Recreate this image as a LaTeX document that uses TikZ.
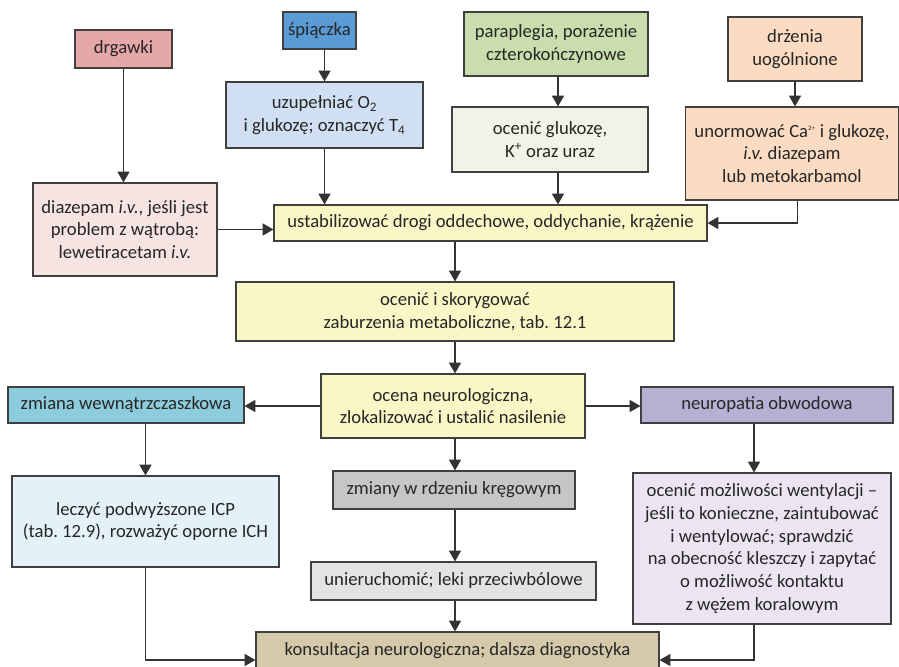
\documentclass[tikz,border=0pt]{standalone}
\usepackage{fontspec}
\setmainfont{Carlito}
\usepackage{xcolor}
\usetikzlibrary{arrows.meta}
\frenchspacing
\definecolor{linegray}{HTML}{333333}
\definecolor{boxgray}{HTML}{404040}
\definecolor{seizred}{HTML}{E5A7A7}
\definecolor{comablue}{HTML}{5B9BD5}
\definecolor{comalight}{HTML}{D0E0F2}
\definecolor{paragreen}{HTML}{CADDAD}
\definecolor{paralight}{HTML}{EFF4E6}
\definecolor{tremorpeach}{HTML}{FBDBC1}
\definecolor{seizlight}{HTML}{F6E4E3}
\definecolor{stabyellow}{HTML}{FAF7C6}
\definecolor{brainblue}{HTML}{8DCCDD}
\definecolor{brainlight}{HTML}{E4F2F8}
\definecolor{nervepurple}{HTML}{B8B0D3}
\definecolor{nervelight}{HTML}{EAE5F1}
\definecolor{spinegray}{HTML}{C6C6C6}
\definecolor{spinelight}{HTML}{E3E3E3}
\definecolor{consulttan}{HTML}{D4C9A9}

\begin{document}
\begin{tikzpicture}[
  x=0.75pt, y=-0.75pt,
  >={Triangle[length=8pt,width=9pt]},
  box/.style={rectangle, draw=boxgray, line width=0.9pt, inner sep=2pt, align=center, text=black!85, font=\fontsize{14}{17}\selectfont},
  flow/.style={->, draw=linegray, line width=0.9pt}
]
  \useasboundingbox (0,0) rectangle (899,667);

  % top row: symptoms
  \node[box, fill=seizred, minimum width=72.75pt, minimum height=28.5pt] (drgawki) at (123.5,49) {drgawki};
  \node[box, fill=comablue, minimum width=54.75pt, minimum height=27.75pt] (spiaczka) at (319.5,30.5) {śpiączka};
  \node[box, fill=paragreen, minimum width=138pt, minimum height=48pt] (parap) at (556,44) {paraplegia, porażenie\\czterokończynowe};
  \node[box, fill=tremorpeach, minimum width=100.5pt, minimum height=48pt] (drzenia) at (795,49) {drżenia\\uogólnione};

  % first actions
  \node[box, fill=comalight, minimum width=147.75pt, minimum height=49.5pt] (uzup) at (324.5,115) {uzupełniać O\textsubscript{2}\\i glukozę; oznaczyć T\textsubscript{4}};
  \node[box, fill=paralight, minimum width=147pt, minimum height=48.75pt] (glukoza) at (550,139.5) {ocenić glukozę,\\K\textsuperscript{+} oraz uraz};
  \node[box, fill=tremorpeach, minimum width=159.75pt, minimum height=69.75pt] (unorm) at (792,153.5) {unormować Ca\textsuperscript{\tiny 2+} i glukozę,\\\textit{i.v.} diazepam\\lub metokarbamol};
  \node[box, fill=seizlight, minimum width=138pt, minimum height=69.75pt] (diazepam) at (125,229.5) {diazepam \textit{i.v.}, jeśli jest\\problem z wątrobą:\\lewetiracetam \textit{i.v.}};

  % main column
  \node[box, fill=stabyellow, minimum width=324.75pt, minimum height=27pt] (ustab) at (490.5,223) {ustabilizować drogi oddechowe, oddychanie, krążenie};
  \node[box, fill=stabyellow, minimum width=328.5pt, minimum height=44.25pt] (skor) at (455,311.5) {ocenić i skorygować\\zaburzenia metaboliczne, tab. 12.1};
  \node[box, fill=stabyellow, minimum width=198pt, minimum height=48pt] (ocena) at (453,406) {ocena neurologiczna,\\zlokalizować i ustalić nasilenie};
  \node[box, fill=spinegray, minimum width=181.5pt, minimum height=28.5pt] (rdzen) at (454,490) {zmiany w rdzeniu kręgowym};
  \node[box, fill=spinelight, minimum width=213.75pt, minimum height=28.5pt] (unieruch) at (453.5,581) {unieruchomić; leki przeciwbólowe};
  \node[box, fill=consulttan, minimum width=302.25pt, minimum height=28.5pt] (konsult) at (457.5,651) {konsultacja neurologiczna; dalsza diagnostyka};

  % side branches
  \node[box, fill=brainblue, minimum width=177pt, minimum height=27pt] (wewn) at (126,405) {zmiana wewnątrzczaszkowa};
  \node[box, fill=brainlight, minimum width=200.25pt, minimum height=68.25pt] (icp) at (145.5,521.5) {leczyć podwyższone ICP\\(tab. 12.9), rozważyć oporne ICH};
  \node[box, fill=nervepurple, minimum width=189pt, minimum height=27pt] (neuropatia) at (767,405) {neuropatia obwodowa};
  \node[box, fill=nervelight, minimum width=193.5pt, minimum height=113.25pt] (wentyl) at (762,548.5) {ocenić możliwości wentylacji –\\jeśli to konieczne, zaintubować\\i wentylować; sprawdzić\\na obecność kleszczy i zapytać\\o możliwość kontaktu\\z wężem koralowym};

  % connectors
  \draw[flow] (drgawki.south) -- (drgawki.south |- diazepam.north);
  \draw[flow] (spiaczka.south -| uzup.north) -- (uzup.north);
  \draw[flow] (uzup.south) -- (uzup.south |- ustab.north);
  \draw[flow] ([xshift=6pt]glukoza.south |- parap.south) -- ([xshift=6pt]glukoza.north);
  \draw[flow] ([xshift=6pt]glukoza.south) -- ([xshift=6pt]glukoza.south |- ustab.north);
  \draw[flow] (drzenia.south) -- (drzenia.south |- unorm.north);
  \draw[flow] ([xshift=4pt]unorm.south) |- (ustab.east);
  \draw[flow] (diazepam.east) -- (diazepam.east -| ustab.west);
  \draw[flow] (ustab.south -| skor.north) -- (skor.north);
  \draw[flow] (skor.south) -- (skor.south |- ocena.north);
  \draw[flow] (ocena.west) -- (ocena.west -| wewn.east);
  \draw[flow] (ocena.east) -- (ocena.east -| neuropatia.west);
  \draw[flow] (ocena.south -| skor.south) -- (skor.south |- rdzen.north);
  \draw[flow] (rdzen.south -| skor.south) -- (skor.south |- unieruch.north);
  \draw[flow] (unieruch.south -| skor.south) -- (skor.south |- konsult.north);
  \draw[flow] (wewn.south -| icp.north) -- (icp.north);
  \draw[flow] (icp.south) |- ([yshift=-6.75pt]konsult.west);
  \draw[flow] ([xshift=-9.75pt]neuropatia.south) -- ([xshift=-9.75pt]neuropatia.south |- wentyl.north);
  \draw[flow] ([xshift=-6pt]wentyl.south) |- ([yshift=-6.75pt]konsult.east);
\end{tikzpicture}
\end{document}
